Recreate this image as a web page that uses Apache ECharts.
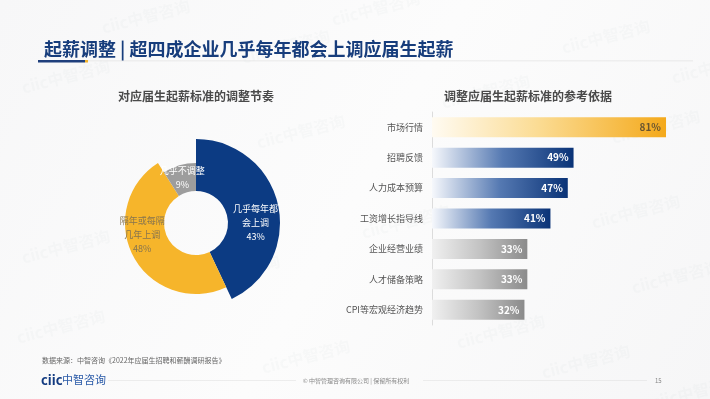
<!DOCTYPE html>
<html><head><meta charset="utf-8">
<script src="https://cdn.jsdelivr.net/npm/echarts@6/dist/echarts.min.js"></script>
<style>html,body{margin:0;padding:0;background:#fff}#c{width:710px;height:399px}</style>
</head><body><div id="c"></div>
<script>
const pieNames = ['几乎每年都\n会上调', '隔年或每隔\n几年上调', '几乎不调整'];
const pieValues = [43, 48, 9];
const barCategories = ['市场行情', '招聘反馈', '人力成本预算', '工资增长指导线', '企业经营业绩', '人才储备策略', 'CPI等宏观经济趋势'];
const barValues = [81, 49, 47, 41, 33, 33, 32];

const FONT = '"Noto Sans CJK SC", "Noto Sans", sans-serif';
const pieColors = ['#0c3b83', '#f6b52b', '#9d9d9d'];
const pieOuter = [84, 71, 60];
const pieLabelColor = ['#ffffff', '#86744f', '#ffffff'];
const pieLabelShift = [[0, 13], [-6, -15], [0, 2]];

function grad(stops) {
  return new echarts.graphic.LinearGradient(0, 0, 1, 0, stops.map((c) => ({offset: c[0], color: c[1]})));
}
const gold = [[0, '#fffbf2'], [0.45, '#fbdc94'], [1, '#f4a91b']];
const blue = [[0, '#f6f8fc'], [0.5, '#5579b2'], [1, '#0a3377']];
const gray = [[0, '#f0f0f0'], [0.5, '#c3c3c3'], [1, '#8b8b8b']];
const barStyles = [gold, blue, blue, blue, gray, gray, gray];
const barLabelColors = ['#6a5530', '#fff', '#fff', '#fff', '#fff', '#fff', '#fff'];

const pieSeries = pieValues.map((_, i) => ({
  type: 'pie',
  center: [196, 223],
  radius: [32, pieOuter[i]],
  startAngle: 90,
  clockwise: true,
  silent: true,
  z: 2,
  labelLayout: {dx: pieLabelShift[i][0], dy: pieLabelShift[i][1]},
  data: pieValues.map((v, j) => ({
    value: v,
    name: pieNames[j],
    itemStyle: {color: j === i ? pieColors[i] : 'rgba(0,0,0,0)'},
    label: {show: j === i}
  })),
  label: {
    position: 'inside',
    formatter: '{b}\n{d}%',
    color: pieLabelColor[i],
    fontSize: 9,
    lineHeight: 14,
    fontFamily: FONT
  },
  labelLine: {show: false}
}));

const watermarks = [[20, 80], [240, 50], [330, 12], [560, 40], [670, 70], [255, 135], [610, 130],
  [590, 215], [360, 225], [190, 275], [20, 250], [455, 335], [630, 280], [15, 330], [260, 360],
  [540, 365], [650, 395], [100, 20], [440, 95]];

const graphics = [
  {type: 'text', x: 44, y: 49, style: {text: '起薪调整 | 超四成企业几乎每年都会上调应届生起薪', fill: '#173d7c', font: 'bold 18px ' + FONT, textVerticalAlign: 'middle'}},
  {type: 'rect', shape: {x: 88, y: 60.5, width: 605, height: 0.8}, style: {fill: '#e4e4e4'}},
  {type: 'rect', shape: {x: 38, y: 60, width: 47, height: 2.5}, style: {fill: '#1f3f7c'}},
  {type: 'rect', shape: {x: 85, y: 60, width: 3, height: 2.5}, style: {fill: '#f3b32c'}},
  {type: 'text', x: 196, y: 96, style: {text: '对应届生起薪标准的调整节奏', fill: '#4a4a4a', font: 'bold 12px ' + FONT, textAlign: 'center', textVerticalAlign: 'middle'}},
  {type: 'text', x: 528, y: 96, style: {text: '调整应届生起薪标准的参考依据', fill: '#4a4a4a', font: 'bold 12px ' + FONT, textAlign: 'center', textVerticalAlign: 'middle'}},
  {type: 'text', x: 42, y: 360, style: {text: '数据来源：中智咨询《2022年应届生招聘和薪酬调研报告》', fill: '#666', font: '7px ' + FONT, textVerticalAlign: 'middle'}},
  {type: 'text', x: 41, y: 380, style: {text: 'ciic', fill: '#123a80', font: 'bold 13px ' + FONT, textVerticalAlign: 'middle'}},
  {type: 'text', x: 62, y: 380, style: {text: '中智咨询', fill: '#2a5aa8', font: '11px ' + FONT, textVerticalAlign: 'middle'}},
  {type: 'rect', shape: {x: 108, y: 380.5, width: 188, height: 0.6}, style: {fill: '#dedede'}},
  {type: 'text', x: 356, y: 381, style: {text: '© 中智管理咨询有限公司 | 保留所有权利', fill: '#888', font: '6px ' + FONT, textAlign: 'center', textVerticalAlign: 'middle'}},
  {type: 'rect', shape: {x: 423, y: 380.5, width: 224, height: 0.6}, style: {fill: '#dedede'}},
  {type: 'text', x: 655, y: 381, style: {text: '15', fill: '#888', font: '6px ' + FONT, textVerticalAlign: 'middle'}}
];
watermarks.forEach(p => graphics.unshift({
  type: 'text', x: p[0], y: p[1], rotation: 0.25, silent: true, z: -1,
  style: {text: 'ciic中智咨询', fill: 'rgba(120,130,150,0.035)', font: 'bold 16px ' + FONT}
}));

const chart = echarts.init(document.getElementById('c'), null, {renderer: 'canvas'});
chart.setOption({
  animation: false,
  backgroundColor: new echarts.graphic.LinearGradient(0, 0, 1, 1, [
    {offset: 0, color: '#f7f7f8'}, {offset: 0.5, color: '#fcfcfc'}, {offset: 1, color: '#f6f6f7'}]),
  textStyle: {fontFamily: FONT},
  graphic: graphics,
  grid: {left: 432, width: 260, top: 112, height: 213, containLabel: false},
  xAxis: {type: 'value', min: 0, max: 90, show: false},
  yAxis: {
    type: 'category', inverse: true, data: barCategories,
    axisLine: {show: true, lineStyle: {color: '#dcdcdc'}},
    axisTick: {show: false},
    axisLabel: {fontSize: 9, color: '#555', margin: 9, fontFamily: FONT}
  },
  series: pieSeries.concat([{
    type: 'bar',
    barWidth: 20,
    silent: true,
    data: barValues.map((v, i) => ({
      value: v,
      itemStyle: {color: grad(barStyles[i])},
      label: {color: barLabelColors[i]}
    })),
    label: {show: true, position: 'insideRight', distance: 5, formatter: '{c}%', fontSize: 10, fontWeight: 'bold', fontFamily: FONT}
  }])
});
</script></body></html>
